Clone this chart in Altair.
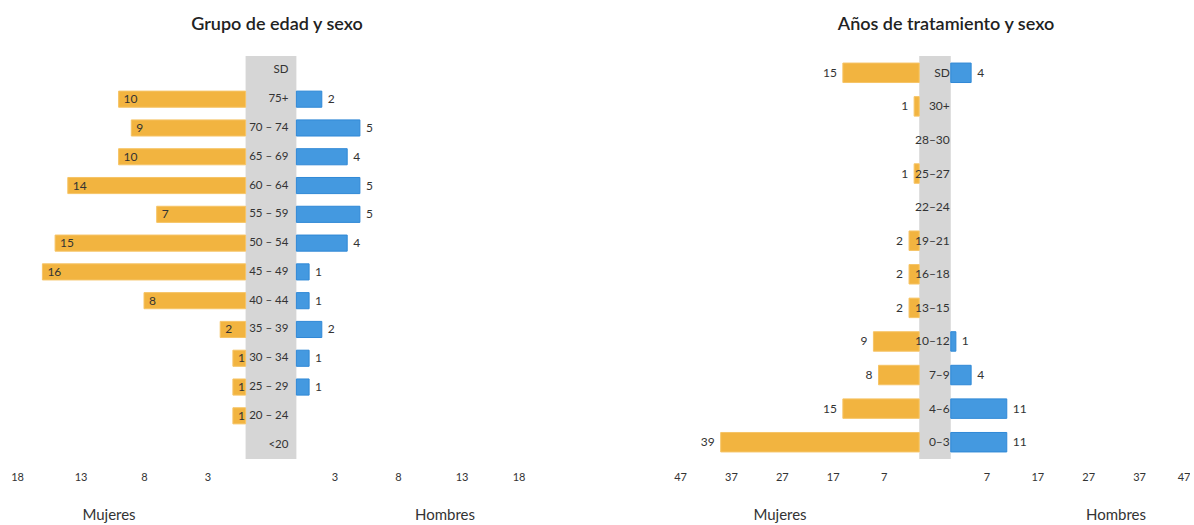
import altair as alt
import pandas as pd

# ---------------- data ----------------
age_groups = ["SD", "75+", "70 – 74", "65 – 69", "60 – 64", "55 – 59", "50 – 54",
              "45 – 49", "40 – 44", "35 – 39", "30 – 34", "25 – 29", "20 – 24", "<20"]
age_women = [0, 10, 9, 10, 14, 7, 15, 16, 8, 2, 1, 1, 1, 0]
age_men = [0, 2, 5, 4, 5, 5, 4, 1, 1, 2, 1, 1, 0, 0]

years_groups = ["SD", "30+", "28–30", "25–27", "22–24", "19–21", "16–18",
                "13–15", "10–12", "7–9", "4–6", "0–3"]
years_women = [15, 1, 0, 1, 0, 2, 2, 2, 9, 8, 15, 39]
years_men = [4, 0, 0, 0, 0, 0, 0, 0, 1, 4, 11, 11]

age_ticks = [3, 8, 13, 18]
years_ticks = [7, 17, 27, 37, 47]

ORANGE = "#F2B440"
ORANGE_EDGE = "#F6C466"
BLUE = "#4499E0"
BLUE_EDGE = "#2F88D6"
GRAY = "#D6D6D6"
TXT = "#333333"
FONT = "Lato"
H = 403


def panel(title, cats, women, men, gap, lim, ticks, width, pad_inner,
          women_inside, cat_dx, cat_size, title_dx, mujeres_x, hombres_x):
    rows = []
    for c, w, m in zip(cats, women, men):
        rows.append({"cat": c, "sex": "Mujeres", "value": w, "start": -gap, "end": -gap - w})
        rows.append({"cat": c, "sex": "Hombres", "value": m, "start": gap, "end": gap + m})
    df = pd.DataFrame(rows)
    cat_df = pd.DataFrame({"cat": cats, "pos": [gap] * len(cats)})

    tick_vals = [-(gap + t) for t in ticks] + [gap + t for t in ticks]
    xscale = alt.Scale(domain=[-lim, lim], nice=False, zero=False)
    yscale = alt.Scale(domain=cats, paddingInner=pad_inner, paddingOuter=pad_inner / 2)
    axis = alt.Axis(values=tick_vals, labelExpr=f"round(abs(datum.value) - {gap})",
                    domain=False, ticks=False, tickSize=0, grid=False, title=None,
                    labelFont=FONT, labelFontSize=11, labelColor=TXT, labelPadding=12,
                    labelAlign={"condition": {"test": f"datum.value >= {lim - 0.01}", "value": "right"},
                                "value": "center"})

    gray = alt.Chart(pd.DataFrame({"lo": [-gap], "hi": [gap]})).mark_rect(color=GRAY).encode(
        x=alt.X("lo:Q", scale=xscale, axis=axis), x2="hi:Q",
        y=alt.value(0), y2=alt.value(H))

    bars = alt.Chart(df).transform_filter("datum.value > 0").mark_bar(strokeWidth=1).encode(
        x=alt.X("start:Q", scale=xscale, axis=axis), x2="end:Q",
        y=alt.Y("cat:N", scale=yscale, axis=None, sort=cats),
        color=alt.Color("sex:N", scale=alt.Scale(domain=["Mujeres", "Hombres"], range=[ORANGE, BLUE]), legend=None),
        stroke=alt.Stroke("sex:N", scale=alt.Scale(domain=["Mujeres", "Hombres"], range=[ORANGE_EDGE, BLUE_EDGE]), legend=None),
    )

    cat_text = alt.Chart(cat_df).mark_text(align="right", baseline="middle", dx=cat_dx,
                                           font=FONT, fontSize=cat_size, color=TXT).encode(
        x=alt.X("pos:Q", scale=xscale, axis=axis),
        y=alt.Y("cat:N", scale=yscale, axis=None, sort=cats),
        text="cat:N")

    if women_inside:
        wmark = dict(align="left", dx=5)
    else:
        wmark = dict(align="right", dx=-6)
    w_text = alt.Chart(df).transform_filter("datum.value > 0 && datum.sex == 'Mujeres'").mark_text(
        baseline="middle", font=FONT, fontSize=12, color=TXT, **wmark).encode(
        x=alt.X("end:Q", scale=xscale, axis=axis),
        y=alt.Y("cat:N", scale=yscale, axis=None, sort=cats),
        text="value:Q")
    m_text = alt.Chart(df).transform_filter("datum.value > 0 && datum.sex == 'Hombres'").mark_text(
        baseline="middle", align="left", dx=6, font=FONT, fontSize=12, color=TXT).encode(
        x=alt.X("end:Q", scale=xscale, axis=axis),
        y=alt.Y("cat:N", scale=yscale, axis=None, sort=cats),
        text="value:Q")

    side = pd.DataFrame({"label": ["Mujeres"]})
    t_muj = alt.Chart(side).mark_text(font=FONT, fontSize=15, color=TXT, baseline="middle",
                                      align="center", text="Mujeres").encode(
        x=alt.value(mujeres_x), y=alt.value(H + 56))
    t_hom = alt.Chart(side).mark_text(font=FONT, fontSize=15, color=TXT, baseline="middle",
                                      align="center", text="Hombres").encode(
        x=alt.value(hombres_x), y=alt.value(H + 56))

    return alt.layer(gray, bars, cat_text, w_text, m_text, t_muj, t_hom).properties(
        width=width, height=H,
        title=alt.TitleParams(text=title, font=FONT, fontSize=18, fontWeight=600, color="#222222",
                              anchor="middle", dx=title_dx, offset=22),
    )


left = panel("Grupo de edad y sexo", age_groups, age_women, age_men,
             gap=2, lim=20, ticks=age_ticks, width=508, pad_inner=0.44,
             women_inside=True, cat_dx=-8, cat_size=11.5, title_dx=6, mujeres_x=92, hombres_x=428)
right = panel("Años de tratamiento y sexo", years_groups, years_women, years_men,
              gap=3.1, lim=50.1, ticks=years_ticks, width=510, pad_inner=0.42,
              women_inside=False, cat_dx=-1, cat_size=12, title_dx=11, mujeres_x=100, hombres_x=436)

chart = alt.hconcat(left, right, spacing=155, bounds="flush").configure_view(
    stroke=None).properties(
    padding={"left": 10, "top": 16, "right": 0, "bottom": 0},
    background="white")

chart.save("out.html", embed_options={"renderer": "svg", "actions": False})
